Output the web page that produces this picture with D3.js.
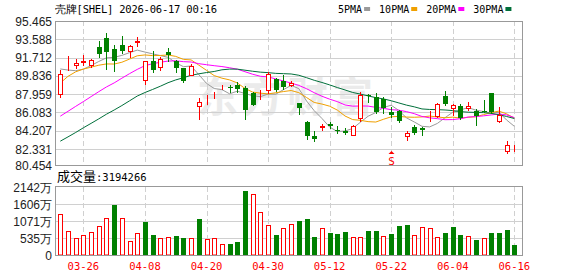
<!DOCTYPE html>
<html>
    <head>
        <title>SHEL</title>
        <meta charset="UTF-8">
        <style>
            body { margin: 0; background: #fff; }
            text { font-family: "Liberation Sans", Arial, sans-serif; }
            .mono { font-family: "DejaVu Sans Mono", monospace; }
            .cjk { font-family: "Noto Sans CJK SC", sans-serif; }
        </style>
    </head>
    <body>
    <svg width="578" height="276"></svg>
    <script src="https://d3js.org/d3.v7.min.js"></script>
    <script>

        var dates = ["03-23", "03-24", "03-25", "03-26", "03-27", "03-30", "03-31", "04-01", "04-02", "04-06",
            "04-07", "04-08", "04-09", "04-10", "04-13", "04-14", "04-15", "04-16", "04-17", "04-20",
            "04-21", "04-22", "04-23", "04-24", "04-27", "04-28", "04-29", "04-30", "05-01", "05-04",
            "05-05", "05-06", "05-07", "05-08", "05-11", "05-12", "05-13", "05-14", "05-15", "05-18",
            "05-19", "05-20", "05-21", "05-22", "05-26", "05-27", "05-28", "05-29", "06-01", "06-02",
            "06-03", "06-04", "06-05", "06-08", "06-09", "06-10", "06-11", "06-12", "06-15", "06-16"];

        var opens = [88.00, 90.40, 90.91, 91.29, 90.98, 92.80, 93.72, 92.59, 93.00, 92.35,
            93.35, 89.44, 91.32, 90.71, 92.28, 91.32, 90.64, 89.96, 86.71, 87.44,
            87.95, 88.67, 88.70, 88.93, 88.59, 88.07, 88.15, 88.42, 89.51, 89.27,
            88.93, 87.05, 85.10, 83.69, 84.62, 84.89, 84.31, 84.14, 83.80, 85.51,
            87.90, 87.63, 87.46, 86.12, 86.19, 83.63, 84.58, 84.48, 85.48, 85.68,
            87.73, 86.53, 86.71, 86.53, 86.19, 86.20, 88.07, 85.23, 82.09, 82.40];
        var highs = [90.47, 91.84, 91.53, 91.94, 91.60, 93.45, 94.23, 92.97, 93.93, 93.04,
            93.82, 91.35, 92.35, 91.74, 92.69, 91.50, 90.66, 91.09, 87.56, 87.90,
            88.18, 88.93, 88.93, 89.17, 88.76, 88.18, 88.35, 90.20, 89.61, 89.89,
            89.34, 87.10, 85.23, 84.14, 84.89, 85.10, 84.65, 84.48, 84.82, 88.18,
            87.97, 88.04, 87.63, 86.60, 86.36, 84.21, 84.82, 84.55, 86.19, 87.05,
            88.25, 86.95, 86.95, 87.12, 86.46, 87.35, 88.10, 86.60, 83.11, 82.77];
        var lows = [87.66, 90.40, 90.64, 90.98, 90.78, 91.77, 90.57, 90.30, 92.15, 91.80,
            92.90, 89.03, 90.23, 90.47, 91.39, 90.20, 89.20, 89.89, 85.44, 86.95,
            87.56, 88.45, 88.18, 88.21, 85.44, 86.81, 87.46, 88.07, 88.25, 88.49,
            88.76, 85.95, 83.39, 83.18, 84.31, 84.48, 83.97, 83.90, 83.73, 85.17,
            87.12, 86.02, 86.02, 85.58, 85.10, 83.28, 83.87, 83.80, 85.17, 85.58,
            86.81, 85.85, 85.44, 86.36, 84.76, 86.10, 86.02, 85.10, 81.92, 82.09];
        var closes = [90.02, 90.45, 91.15, 91.40, 91.45, 92.11, 92.32, 91.39, 92.42, 92.86,
            93.40, 91.32, 90.47, 91.53, 91.98, 90.64, 89.27, 90.81, 87.12, 87.48,
            88.00, 88.71, 88.67, 88.45, 86.30, 86.88, 88.20, 90.02, 88.35, 88.66,
            89.07, 86.53, 83.69, 83.35, 84.70, 84.66, 84.21, 83.97, 84.65, 87.90,
            87.73, 86.12, 86.53, 85.85, 85.17, 83.95, 84.02, 84.31, 85.54, 86.95,
            86.90, 86.81, 85.51, 86.71, 85.68, 86.15, 86.09, 85.85, 82.77, 82.45];
        // 万股
        var volumes = [1306, 752, 522, 617, 721, 899, 1181, 1567, 1150, 439,
            679, 1035, 617, 522, 554, 596, 533, 522, 1129, 491,
            522, 334, 345, 418, 2006, 1912, 1369, 930, 627, 836,
            961, 1066, 1129, 564, 836, 690, 658, 721, 554, 554,
            752, 752, 585, 658, 909, 940, 617, 867, 836, 554,
            690, 878, 627, 585, 470, 522, 690, 690, 784, 319.4266];

        // closes before the first visible day, only used for the moving averages
        var priorCloses = [77.2, 77.6, 77.0, 77.8, 78.3, 77.9, 78.5, 78.8, 78.2, 78.7,
            80.5, 81.0, 81.6, 81.2, 82.0, 82.6, 83.1, 82.8, 83.5, 84.7,
            83.6, 86.5, 88.6, 89.5, 90.1, 91.0, 91.5, 90.6, 89.6];

        var priceTicks = [95.465, 93.588, 91.712, 89.836, 87.959, 86.083, 84.207, 82.331, 80.454];
        var volTicks = [2142, 1606, 1071, 535, 0];
        var dateTicks = ["03-26", "04-08", "04-20", "04-30", "05-12", "05-22", "06-04", "06-16"];
        var maPeriods = [5, 10, 20, 30];
        var maColors = ["#9a9a9a", "#f0a000", "#ff00ff", "#006f3a"];
        var markers = [{date: "05-22", label: "S"}];

        var svg = d3.select("svg");
        var pLeft = 55, pRight = 522, pTop = 21, pBottom = 165, vTop = 187, vBottom = 255;
        var up = "#ff0000", down = "#008000", grid = "#d0d0d0";

        var x = d3.scalePoint().domain(dates).range([60.3, 514.3]);
        var y = d3.scaleLinear().domain([80.454, 95.465]).range([167.3, pTop]);
        var vy = d3.scaleLinear().domain([0, 2142]).range([vBottom, vTop]);
        var cx = function (d) { return Math.round(x(d)); };

        // title
        svg.append("text").attr("x", 55).attr("y", 13).attr("class", "mono")
                .style("font-size", "10.5px").attr("fill", "#000")
                .attr("textLength", 162).attr("lengthAdjust", "spacing")
                .text("壳牌[SHEL] 2026-06-17 00:16");

        // legend
        var lx = 338;
        maPeriods.forEach(function (p, k) {
            var t = svg.append("text").attr("x", lx).attr("y", 13).attr("class", "mono")
                    .style("font-size", "10px").attr("fill", "#000").text(p + "PMA");
            var w = t.node().getComputedTextLength();
            svg.append("rect").attr("x", lx + w + 2).attr("y", 7).attr("width", 6).attr("height", 4)
                    .attr("fill", maColors[k]);
            lx += w + 17;
        });

        // watermark
        svg.append("text").attr("x", 197).attr("y", 112).attr("class", "cjk")
                .style("font-size", "41px").style("font-weight", "bold").style("letter-spacing", "4px")
                .attr("fill", "#ebebeb").text("东方财富");

        // price grid
        svg.selectAll(".pgrid").data(priceTicks.slice(1, -1)).enter().append("line")
                .attr("x1", pLeft).attr("x2", pRight)
                .attr("y1", function (d) { return Math.round(y(d)) + 0.5; })
                .attr("y2", function (d) { return Math.round(y(d)) + 0.5; })
                .attr("stroke", grid);
        svg.selectAll(".plab").data(priceTicks).enter().append("text")
                .attr("x", 52).attr("y", function (d) { return Math.min(y(d), pBottom) + 4.5; })
                .attr("text-anchor", "end").style("font-size", "12px").attr("fill", "#222")
                .text(function (d) { return d.toFixed(3); });

        // volume grid
        svg.selectAll(".vgrid").data(volTicks.slice(1, -1)).enter().append("line")
                .attr("x1", pLeft).attr("x2", pRight)
                .attr("y1", function (d) { return Math.round(vy(d)) + 0.5; })
                .attr("y2", function (d) { return Math.round(vy(d)) + 0.5; })
                .attr("stroke", grid);
        svg.selectAll(".vlab").data(volTicks).enter().append("text")
                .attr("x", 52).attr("y", function (d) { return vy(d) + 4.5; })
                .attr("text-anchor", "end").style("font-size", "12px").attr("fill", "#222")
                .text(function (d) { return d === 0 ? "0" : d + "万"; });

        // vertical dashed grid + date labels
        dateTicks.forEach(function (d) {
            [[pTop, pBottom], [vTop, vBottom]].forEach(function (r) {
                svg.append("line").attr("x1", cx(d) + 0.5).attr("x2", cx(d) + 0.5)
                        .attr("y1", r[0]).attr("y2", r[1])
                        .attr("stroke", grid).attr("stroke-dasharray", "5,3");
            });
            svg.append("text").attr("x", x(d)).attr("y", 270).attr("class", "mono")
                    .attr("text-anchor", "middle").style("font-size", "10.5px").attr("fill", up).text(d);
        });

        // moving averages
        var all = priorCloses.concat(closes);
        maPeriods.forEach(function (p, k) {
            var vals = closes.map(function (c, i) {
                var j = priorCloses.length + i;
                return d3.mean(all.slice(j - p + 1, j + 1));
            });
            svg.append("path").datum(vals)
                    .attr("fill", "none").attr("stroke", maColors[k]).attr("stroke-width", 1)
                    .attr("d", d3.line().x(function (v, i) { return x(dates[i]); }).y(function (v) { return y(v); }));
        });

        // candles
        var isUp = function (i) { return closes[i] >= opens[i]; };
        var candles = svg.selectAll(".candle").data(dates).enter().append("g");
        candles.append("line")
                .attr("x1", function (d) { return cx(d) + 0.5; })
                .attr("x2", function (d) { return cx(d) + 0.5; })
                .attr("y1", function (d, i) { return Math.round(y(highs[i])); })
                .attr("y2", function (d, i) { return Math.round(y(lows[i])) + 1; })
                .attr("stroke", function (d, i) { return isUp(i) ? up : down; });
        candles.append("rect")
                .attr("x", function (d, i) { return isUp(i) ? cx(d) - 1.5 : cx(d) - 2; })
                .attr("y", function (d, i) {
                    var t = Math.round(y(Math.max(opens[i], closes[i])));
                    return isUp(i) ? t + 0.5 : t;
                })
                .attr("width", function (d, i) { return isUp(i) ? 4 : 5; })
                .attr("height", function (d, i) {
                    var h = Math.round(y(Math.min(opens[i], closes[i]))) - Math.round(y(Math.max(opens[i], closes[i])));
                    return isUp(i) ? h : Math.max(h, 1);
                })
                .attr("fill", function (d, i) { return isUp(i) ? "#fff" : down; })
                .attr("stroke", function (d, i) { return isUp(i) ? up : "none"; });

        // event markers
        markers.forEach(function (m) {
            svg.append("path").attr("d", "M" + (cx(m.date) + 0.5) + ",151 l3,3 h-6 z").attr("fill", up);
            svg.append("text").attr("x", cx(m.date) + 0.5).attr("y", 165).attr("class", "mono")
                    .attr("text-anchor", "middle").style("font-size", "11px").attr("fill", up).text(m.label);
        });

        // volume bars (colour by change against previous close)
        var rising = function (i) { return closes[i] >= (i ? closes[i - 1] : priorCloses[priorCloses.length - 1]); };
        svg.selectAll(".vol").data(dates).enter().append("rect")
                .attr("x", function (d, i) { return rising(i) ? cx(d) - 1.5 : cx(d) - 2; })
                .attr("y", function (d, i) { return Math.round(vy(volumes[i])) + (rising(i) ? 0.5 : 0); })
                .attr("width", function (d, i) { return rising(i) ? 4 : 5; })
                .attr("height", function (d, i) { return vBottom - Math.round(vy(volumes[i])) - (rising(i) ? 0.5 : 0); })
                .attr("fill", function (d, i) { return rising(i) ? "#fff" : down; })
                .attr("stroke", function (d, i) { return rising(i) ? up : "none"; });

        // frames
        svg.append("rect").attr("x", pLeft + 0.5).attr("y", pTop + 0.5).attr("width", pRight - pLeft).attr("height", pBottom - pTop)
                .attr("fill", "none").attr("stroke", "#999");
        svg.append("rect").attr("x", pLeft + 0.5).attr("y", vTop - 0.5).attr("width", pRight - pLeft).attr("height", vBottom - vTop + 1)
                .attr("fill", "none").attr("stroke", "#999");

        var vt = svg.append("text").attr("x", 57).attr("y", 181);
        vt.append("tspan").attr("class", "cjk").style("font-size", "13px").text("成交量");
        vt.append("tspan").attr("class", "mono").style("font-size", "10.5px").text(":3194266");

    </script>
    </body>
</html>
